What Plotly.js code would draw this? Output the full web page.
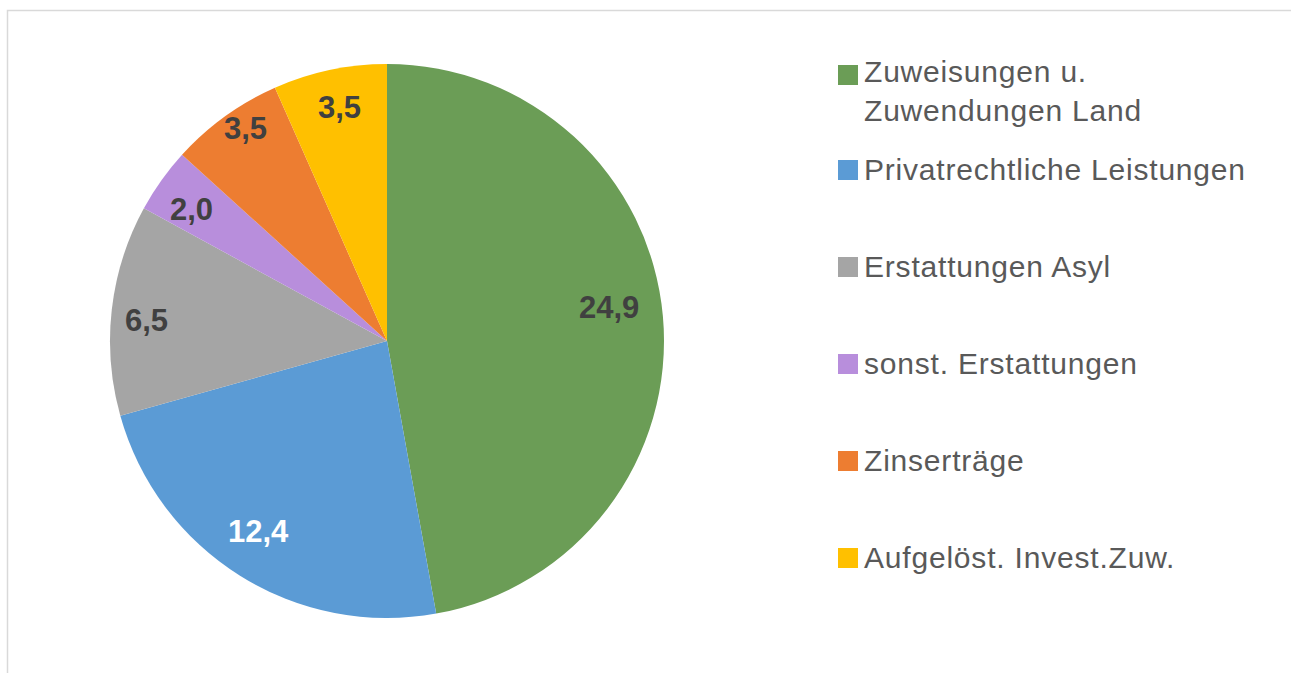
<!DOCTYPE html>
<html>
<head>
<meta charset="utf-8">
<script src="https://cdn.plot.ly/plotly-3.0.1.min.js"></script>
<style>
  html, body { margin: 0; padding: 0; background: #fff; overflow: hidden; }
  #chart { width: 1291px; height: 673px; }
</style>
</head>
<body>
<div id="chart"></div>
<script>
// ---- data ----
const categories = [
  "Zuweisungen u.<br>Zuwendungen Land",
  "Privatrechtliche Leistungen",
  "Erstattungen Asyl",
  "sonst. Erstattungen",
  "Zinserträge",
  "Aufgelöst. Invest.Zuw."
];
const values = [24.9, 12.4, 6.5, 2.0, 3.5, 3.5];
const valueLabels = ["24,9", "12,4", "6,5", "2,0", "3,5", "3,5"];

// ---- styles ----
const colors = ["#6B9D56", "#5B9BD5", "#A5A5A5", "#B88EDC", "#ED7D31", "#FFC000"];
const labelColors = ["#404040", "#FFFFFF", "#404040", "#404040", "#404040", "#404040"];
// label placement inside slices (radial fraction, angle nudge in degrees)
const labelRadius = [0.81, 0.83, 0.87, 0.85, 0.92, 0.86];
const labelNudge = [-3.4, 1.9, -1.5, -1.6, 2.1, 0.5];

const W = 1291, H = 673;
const cx = 387, cy = 341, R = 277;
const FONT = "Liberation Sans, Arial, sans-serif";

const total = values.reduce((a, b) => a + b, 0);

const annotations = [];
let cum = 0;
values.forEach((v, i) => {
  const mid = ((cum + v / 2) / total * 360 + labelNudge[i]) * Math.PI / 180;
  cum += v;
  const px = cx + labelRadius[i] * R * Math.sin(mid);
  const py = cy - labelRadius[i] * R * Math.cos(mid);
  annotations.push({
    xref: "paper", yref: "paper",
    x: px / W, y: 1 - py / H,
    text: valueLabels[i], showarrow: false,
    xanchor: "center", yanchor: "middle",
    font: { family: FONT, size: 31, color: labelColors[i], weight: "bold" }
  });
});

// border + manual legend
const shapes = [{
  type: "rect", xref: "paper", yref: "paper",
  x0: 7.5 / W, x1: 1292 / W, y0: 1 - 690 / H, y1: 1 - 10.5 / H,
  line: { color: "#D9D9D9", width: 1.5 }, fillcolor: "rgba(0,0,0,0)", layer: "below"
}];
const legX = 838, legTextX = 862, legSize = 20;
const legTop = 75, legGap1 = 95, legGap = 97;
categories.forEach((c, i) => {
  const yc = i === 0 ? legTop : legTop + legGap1 + (i - 1) * legGap;
  shapes.push({
    type: "rect", xref: "paper", yref: "paper",
    x0: legX / W, x1: (legX + legSize) / W,
    y0: 1 - (yc + legSize / 2) / H, y1: 1 - (yc - legSize / 2) / H,
    fillcolor: colors[i], line: { width: 0 }
  });
  annotations.push({
    xref: "paper", yref: "paper",
    x: legTextX / W, y: 1 - (yc - (i === 0 ? 22 : 19)) / H,
    text: c, showarrow: false, align: "left",
    xanchor: "left", yanchor: "top",
    font: { family: FONT, size: 30, color: "#595959" }
  });
});

const trace = {
  type: "pie",
  labels: categories,
  values: values,
  sort: false,
  direction: "clockwise",
  rotation: 0,
  textinfo: "none",
  hoverinfo: "label+value",
  marker: { colors: colors, line: { width: 0 } },
  domain: { x: [(cx - R) / W, (cx + R) / W], y: [1 - (cy + R) / H, 1 - (cy - R) / H] }
};

const layout = {
  width: W, height: H,
  margin: { l: 0, r: 0, t: 0, b: 0 },
  paper_bgcolor: "#FFFFFF",
  showlegend: false,
  annotations: annotations,
  shapes: shapes
};

Plotly.newPlot("chart", [trace], layout, { displayModeBar: false, staticPlot: true }).then(() => {
  document.querySelectorAll("#chart g.annotation").forEach(g => {
    const idx = +g.getAttribute("data-index");
    if (idx >= values.length) {
      g.querySelectorAll("text").forEach(t => { t.style.letterSpacing = "0.8px"; });
    }
  });
});
</script>
</body>
</html>
